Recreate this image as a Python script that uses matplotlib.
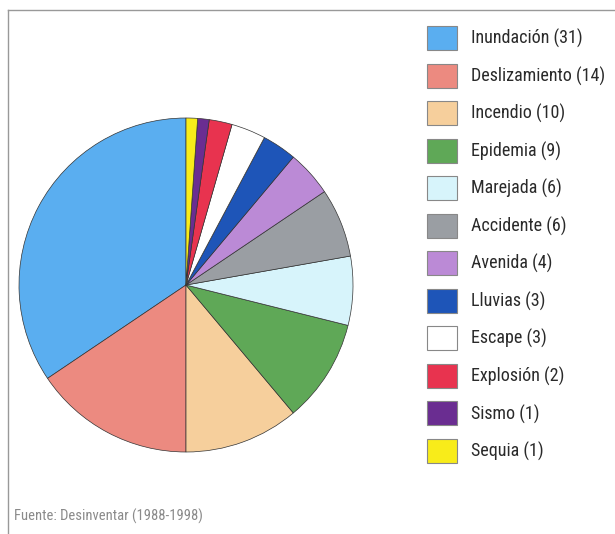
import matplotlib
matplotlib.use("Agg")
import matplotlib.pyplot as plt
from matplotlib.lines import Line2D
from matplotlib import font_manager

categories = ["Inundación", "Deslizamiento", "Incendio", "Epidemia", "Marejada",
              "Accidente", "Avenida", "Lluvias", "Escape", "Explosión", "Sismo", "Sequia"]
values = [31, 14, 10, 9, 6, 6, 4, 3, 3, 2, 1, 1]
colors = ["#5aaef0", "#ec8a80", "#f6cf9c", "#5fa857", "#d7f4fb", "#9a9ea3",
          "#bb8ad6", "#1e55b8", "#ffffff", "#e8334f", "#6a2d91", "#f8ec1a"]
source = "Fuente: Desinventar (1988-1998)"

names = {f.name for f in font_manager.fontManager.ttflist}
fam = "Roboto"
for cand in ["Roboto Condensed", "Liberation Sans Narrow", "DejaVu Sans Condensed",
             "Open Sans Condensed", "Roboto", "DejaVu Sans"]:
    if cand in names:
        fam = cand
        break
plt.rcParams['font.family'] = [fam, 'DejaVu Sans']

W, H = 615, 534
fig = plt.figure(figsize=(W / 100, H / 100), dpi=100)
fig.patch.set_facecolor("white")
ax = fig.add_axes([0, 0, 1, 1])

wedges, _ = ax.pie(values, colors=colors, startangle=90, counterclock=True,
                   center=(186, H - 285), radius=167, frame=True,
                   wedgeprops=dict(edgecolor="#333333", linewidth=0.5))
ax.set_xlim(0, W)
ax.set_ylim(0, H)
ax.set_aspect("equal")
ax.axis("off")

labels = [f"{c} ({v})" for c, v in zip(categories, values)]
leg = fig.legend(wedges, labels, loc="upper left",
                 bbox_to_anchor=(427 / W, 1 - 26 / H), frameon=False,
                 fontsize=13, handlelength=1.66, handleheight=1.668,
                 labelspacing=0.75, handletextpad=0.78, borderpad=0,
                 borderaxespad=0)
for h in leg.legend_handles:
    h.set_edgecolor("#888888")
    h.set_linewidth(0.8)
for t in leg.get_texts():
    t.set_color("#2a2a2a")

fig.text(14 / W, 1 - 516 / H, source, fontsize=10.5, color="#8a8a8a",
         va="center", ha="left")

fig.add_artist(Line2D([8 / W, 1], [1 - 10 / H, 1 - 10 / H], color="#999999", lw=1))
fig.add_artist(Line2D([8 / W, 8 / W], [0, 1 - 10 / H], color="#999999", lw=1))

fig.savefig("out.png", dpi=100, facecolor="white")
